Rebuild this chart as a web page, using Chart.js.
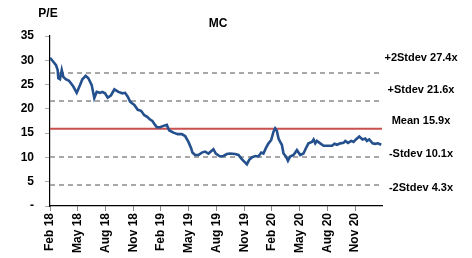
<!DOCTYPE html>
<html>
<head>
<meta charset="utf-8">
<script src="https://cdn.jsdelivr.net/npm/chart.js@4"></script>
<style>
  html, body { margin: 0; padding: 0; background: #fff; }
  #wrap { width: 472px; height: 258px; position: relative; }
</style>
</head>
<body>
<div id="wrap"><canvas id="peChart" width="472" height="258"></canvas></div>
<script>
/* ─── Data ──────────────────────────────────────────────────────────────── */
// months elapsed since Feb 2018, and the P/E read at that point
const months = [
  0, 0.36, 0.65, 0.83, 0.9, 1.08, 1.27, 1.44, 1.7, 2.06, 2.52, 2.89, 3.25, 3.5, 3.86,
  4.15, 4.51, 4.79, 5.05, 5.41, 5.66, 5.95, 6.24, 6.6, 6.96, 7.39, 7.82, 8.12, 8.41,
  8.66, 8.91, 9.12, 9.49, 9.85, 10.2, 10.47, 10.82, 11.07, 11.36, 11.55, 11.9, 12.26,
  12.63, 12.88, 13.34, 13.82, 14.25, 14.61, 14.97, 15.26, 15.4, 15.69, 16.05, 16.42,
  16.77, 17.13, 17.67, 17.93, 18.4, 18.76, 19.12, 19.48, 20.02, 20.38, 20.67, 21.03,
  21.29, 21.54, 21.83, 22.19, 22.54, 22.84, 23.08, 23.34, 23.63, 23.92, 24.17, 24.35,
  24.53, 24.71, 24.89, 25.07, 25.25, 25.51, 25.73, 25.97, 26.33, 26.7, 27.06, 27.41,
  27.67, 27.95, 28.32, 28.5, 28.68, 28.86, 29.22, 29.58, 30.12, 30.49, 30.77, 31.03,
  31.39, 31.74, 31.93, 32.22, 32.58, 32.82, 33.08, 33.44, 33.8, 34.09, 34.27, 34.52,
  34.88, 35.17, 35.46, 35.82
];
const peValues = [
  30.5, 29.7, 29.0, 28.0, 26.3, 26.1, 28.0, 26.6, 26.1, 25.8, 24.6, 23.3, 24.9, 26.1, 26.8,
  26.3, 24.9, 22.2, 23.5, 23.3, 23.5, 23.2, 22.3, 22.8, 24.0, 23.5, 23.2, 23.3, 22.5,
  21.5, 21.1, 20.8, 19.8, 19.6, 18.7, 18.4, 17.8, 17.5, 16.7, 16.2, 16.2, 16.5,
  16.7, 15.6, 15.1, 14.8, 14.8, 14.4, 13.2, 11.9, 11.0, 10.5, 10.5, 11.0,
  11.2, 10.8, 11.7, 10.8, 10.2, 10.3, 10.7, 10.8, 10.7, 10.5, 9.8, 9.1,
  8.6, 9.5, 10.0, 10.3, 10.2, 11.0, 10.8, 11.9, 12.9, 13.6, 15.3, 16.0,
  15.5, 13.9, 13.2, 12.6, 10.8, 10.2, 9.3, 10.2, 10.5, 11.5, 10.5, 10.8,
  11.9, 12.9, 13.2, 13.7, 12.9, 13.4, 12.9, 12.4, 12.4, 12.4, 12.8, 12.6,
  12.9, 13.0, 13.4, 13.0, 13.4, 13.2, 13.7, 14.3, 13.7, 13.9, 13.4, 13.7,
  12.9, 12.8, 12.9, 12.6
];
const bandNames  = ['+2Stdev', '+Stdev', 'Mean', '-Stdev', '-2Stdev'];
const bandValues = [27.4, 21.6, 15.9, 10.1, 4.3];
const xTickLabels = ['Feb 18', 'May 18', 'Aug 18', 'Nov 18', 'Feb 19', 'May 19',
                     'Aug 19', 'Nov 19', 'Feb 20', 'May 20', 'Aug 20', 'Nov 20'];
const yTickValues = [0, 5, 10, 15, 20, 25, 30, 35];

/* ─── Styling ───────────────────────────────────────────────────────────── */
const FONT   = "'Liberation Sans', Arial, sans-serif";
const X_MAX  = 35.9;
const labelNudge = [-15, -11, -8, -3, 3];   // right-hand labels sit a bit off their lines

const series = months.map((m, i) => ({ x: m, y: peValues[i] }));

const bandSets = bandValues.map((v, i) => ({
  label: bandNames[i],
  data: [{ x: 0, y: v }, { x: X_MAX, y: v }],
  borderColor: bandNames[i] === 'Mean' ? '#c9504f' : '#8c8c8c',
  borderWidth: bandNames[i] === 'Mean' ? 2 : 1.5,
  borderDash: bandNames[i] === 'Mean' ? [] : [5, 4],
  pointRadius: 0,
  order: 2,
}));

/* ─── Extra text: title, axis caption, band labels ──────────────────────── */
const textPlugin = {
  id: 'peText',
  afterDraw(chart) {
    const { ctx, chartArea, scales } = chart;
    ctx.save();
    ctx.fillStyle = '#000';
    ctx.font = `bold 12px ${FONT}`;
    ctx.textBaseline = 'middle';
    ctx.textAlign = 'center';
    ctx.fillText('MC', (chartArea.left + chartArea.right) / 2 + 2, 24);
    ctx.fillText('P/E', 48, 14);

    ctx.font = `bold 11px ${FONT}`;
    bandValues.forEach((v, i) => {
      const y = scales.y.getPixelForValue(v) + labelNudge[i];
      ctx.fillText(`${bandNames[i]} ${v.toFixed(1)}x`, 421, y);
    });
    ctx.restore();
  },
};

/* ─── Chart ─────────────────────────────────────────────────────────────── */
new Chart(document.getElementById('peChart'), {
  type: 'line',
  data: {
    datasets: [
      {
        label: 'P/E',
        data: series,
        borderColor: '#24508d',
        borderWidth: 2.6,
        pointRadius: 0,
        tension: 0,
        order: 1,
      },
      ...bandSets,
    ],
  },
  options: {
    responsive: false,
    animation: false,
    layout: { padding: { top: 36, right: 90, left: 0, bottom: 0 } },
    plugins: {
      legend: { display: false },
      tooltip: { enabled: false },
    },
    scales: {
      x: {
        type: 'linear',
        min: 0,
        max: X_MAX,
        afterBuildTicks(scale) {
          scale.ticks = xTickLabels.map((_, i) => ({ value: i * 3 }));
        },
        afterFit(scale) { scale.height = 52; },
        border: { color: '#000', width: 1.2 },
        grid: { drawOnChartArea: false, tickLength: 5, color: '#888' },
        ticks: {
          maxRotation: 90,
          minRotation: 90,
          autoSkip: false,
          padding: 2,
          color: '#000',
          font: { family: FONT, size: 12, weight: 'bold' },
          callback: (v) => xTickLabels[Math.round(v / 3)],
        },
      },
      y: {
        min: 0,
        max: 35,
        afterBuildTicks(scale) {
          scale.ticks = yTickValues.map(v => ({ value: v }));
        },
        afterFit(scale) { scale.width = 50; },
        border: { color: '#000', width: 1.2 },
        grid: { drawOnChartArea: false, tickLength: 5, color: '#aaa' },
        ticks: {
          padding: 11,
          color: '#000',
          font: { family: FONT, size: 12, weight: 'bold' },
          callback: (v) => (v === 0 ? '-' : v),
        },
      },
    },
  },
  plugins: [textPlugin],
});
</script>
</body>
</html>
